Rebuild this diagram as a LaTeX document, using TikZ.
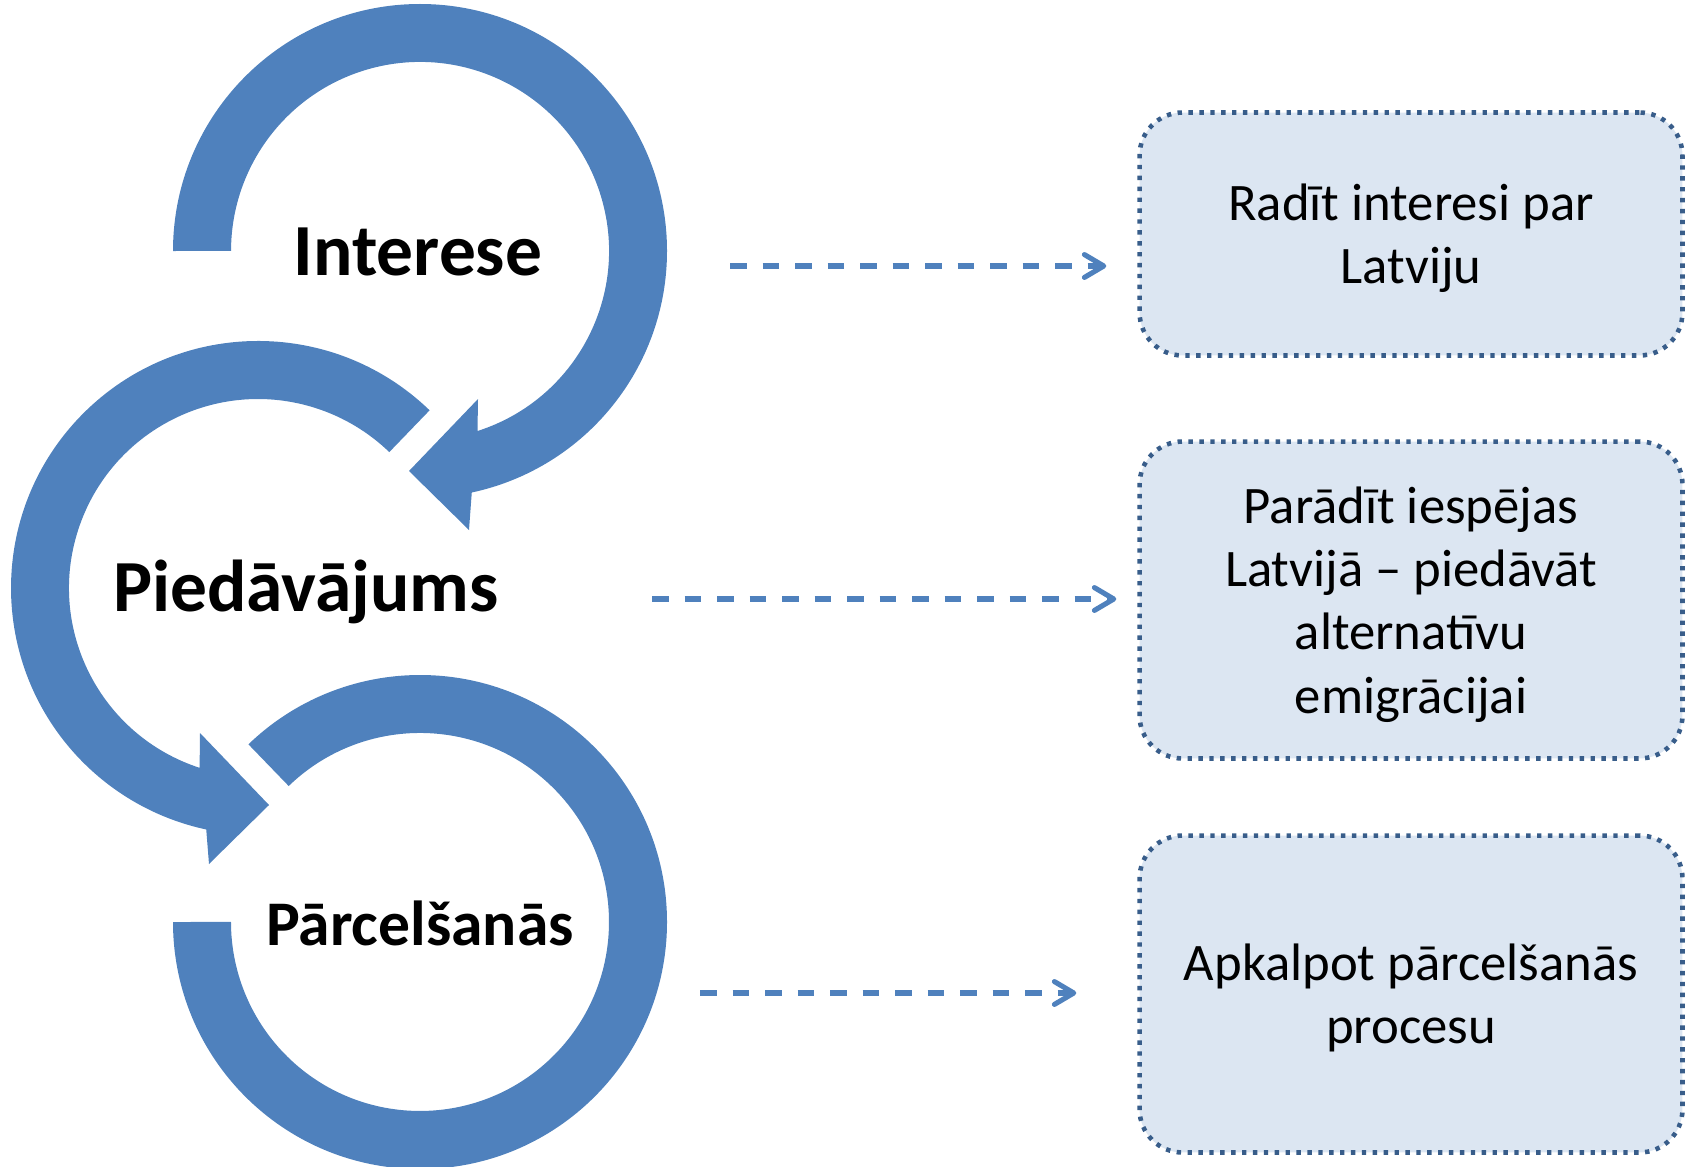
\documentclass[tikz,border=0pt]{standalone}
\usepackage{fontspec}
\setmainfont{Carlito}
\usetikzlibrary{arrows.meta}

\definecolor{ringblue}{HTML}{4F81BD}
\definecolor{boxfill}{HTML}{DCE6F2}
\definecolor{boxline}{HTML}{385D8A}
\newcommand{\stagefont}{\bfseries\fontsize{41.8}{50}\selectfont}
\tikzset{
  ring/.style={fill=ringblue},
  stagelabel/.style={anchor=base, font=\stagefont},
  goalbox/.style={draw=boxline, fill=boxfill, line width=2.6pt, dash pattern=on 2.5pt off 3.7pt,
    rounded corners=0.86cm, minimum width=10.86cm, align=center, text depth=0pt,
    font=\fontsize{30}{36}\selectfont},
  flowarrow/.style={draw=ringblue, line width=2.9pt, dash pattern=on 9.4pt off 9.1pt,
    -{Straight Barb[length=11pt,width=13pt,round]}}
}

\begin{document}
\begin{tikzpicture}[x=0.02cm, y=-0.02cm]
\useasboundingbox (0,0) rectangle (1689,1166);

\fill[ring] (173,251) arc[start angle=180, end angle=437.9, radius=247] -- (469,530) -- (409,471) -- (478,399) -- (477.5,431) arc[start angle=432.3, end angle=180, radius=189] -- cycle;
\fill[ring] (429.6,410.3) arc[start angle=-46, end angle=-257.9, radius=247] -- (209,864) -- (269,805) -- (200,733) -- (199.6,767.8) arc[start angle=-252, end angle=-46, radius=189] -- cycle;
\fill[ring] (173,922) arc[start angle=180, end angle=-134, radius=247] -- (288.7,786) arc[start angle=-134, end angle=180, radius=189] -- cycle;

\node[stagelabel] (interese) at (418,275) {Interese};
\node[stagelabel] (piedavajums) at (306,611) {Piedāvājums};
\node[stagelabel, font=\bfseries\fontsize{36.2}{44}\selectfont] (parcelsanas) at (420,945) {Pārcelšanās};

\node[goalbox, minimum height=4.86cm] (box1) at (1411,234) {Radīt interesi par\\Latviju};
\node[goalbox, minimum height=6.34cm] (box2) at (1411,600) {Parādīt iespējas\\Latvijā -- piedāvāt\\alternatīvu\\emigrācijai};
\node[goalbox, minimum height=6.34cm] (box3) at (1411,994) {Apkalpot pārcelšanās\\procesu};

\coordinate (start1) at (730,266);
\coordinate (start2) at (652,599);
\coordinate (start3) at (700,993);
\draw[flowarrow, shorten >=0.62cm] (start1) -- (start1 -| box1.west);
\draw[flowarrow, shorten >=0.42cm] (start2) -- (start2 -| box2.west);
\draw[flowarrow, shorten >=1.22cm] (start3) -- (start3 -| box3.west);
\end{tikzpicture}
\end{document}
